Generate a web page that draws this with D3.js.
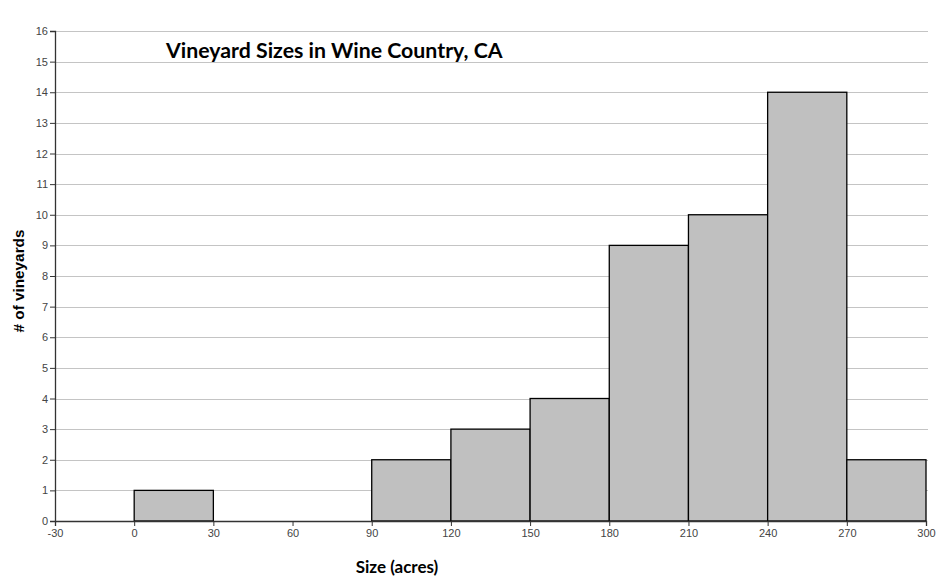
<!DOCTYPE html>
<html><head><meta charset="utf-8">
<script src="https://cdn.jsdelivr.net/npm/d3@7"></script>
<style>body{margin:0;background:#fff}</style>
</head><body>
<script>
const binStarts = [0, 30, 60, 90, 120, 150, 180, 210, 240, 270];
const binWidth = 30;
const counts = [1, 0, 0, 2, 3, 4, 9, 10, 14, 2];
const xTicks = [-30, 0, 30, 60, 90, 120, 150, 180, 210, 240, 270, 300];
const yTicks = d3.range(0, 17);

const W = 945, H = 582;
const svg = d3.select("body").append("svg").attr("width", W).attr("height", H);
const x = d3.scaleLinear().domain([-30, 300]).range([55, 926]);
const y = d3.scaleLinear().domain([0, 16]).range([521, 31]);

// gridlines
svg.append("g").selectAll("line").data(yTicks.filter(d => d > 0)).join("line")
  .attr("x1", x(-30)).attr("x2", x(300) + 2)
  .attr("y1", d => Math.round(y(d)) + 0.5).attr("y2", d => Math.round(y(d)) + 0.5)
  .attr("stroke", "#c4c4c4").attr("stroke-width", 1);

// bars
const data = binStarts.map((s, i) => ({s, c: counts[i]})).filter(d => d.c > 0);
svg.append("g").selectAll("rect").data(data).join("rect")
  .attr("x", d => x(d.s)).attr("width", d => x(d.s + binWidth) - x(d.s))
  .attr("y", d => y(d.c)).attr("height", d => y(0) - y(d.c))
  .attr("fill", "#c0c0c0").attr("stroke", "#000").attr("stroke-width", 1.3);

// axes
const gx = svg.append("g").attr("transform", `translate(0,${y(0)})`)
  .call(d3.axisBottom(x).tickValues(xTicks).tickFormat(d => String(d)).tickSize(5).tickPadding(3));
const gy = svg.append("g").attr("transform", `translate(${x(-30)},0)`)
  .call(d3.axisLeft(y).tickValues(yTicks).tickFormat(d => String(d)).tickSize(5).tickPadding(2));
[gx, gy].forEach(g => {
  g.select(".domain").attr("stroke", "#333").attr("stroke-width", 1.3);
  g.selectAll(".tick line").attr("stroke", "#333");
  g.selectAll("text").attr("fill", "#444").style("font-family", "Liberation Sans, Arial, sans-serif").style("font-size", "11px");
});

svg.append("text").attr("x", 166).attr("y", 58)
  .style("font-family", "Lato, 'Open Sans', sans-serif").style("font-weight", "bold").style("font-size", "21.3px")
  .attr("fill", "#000").text("Vineyard Sizes in Wine Country, CA");

svg.append("text").attr("transform", "translate(24,281) rotate(-90)").attr("text-anchor", "middle")
  .style("font-family", "Liberation Sans, Arial, sans-serif").style("font-weight", "bold").style("font-size", "15.3px")
  .attr("fill", "#000").text("# of vineyards");

svg.append("text").attr("x", 397).attr("y", 573).attr("text-anchor", "middle")
  .style("font-family", "Lato, 'Open Sans', sans-serif").style("font-weight", "bold").style("font-size", "17px")
  .attr("fill", "#000").text("Size (acres)");
</script>
</body></html>
